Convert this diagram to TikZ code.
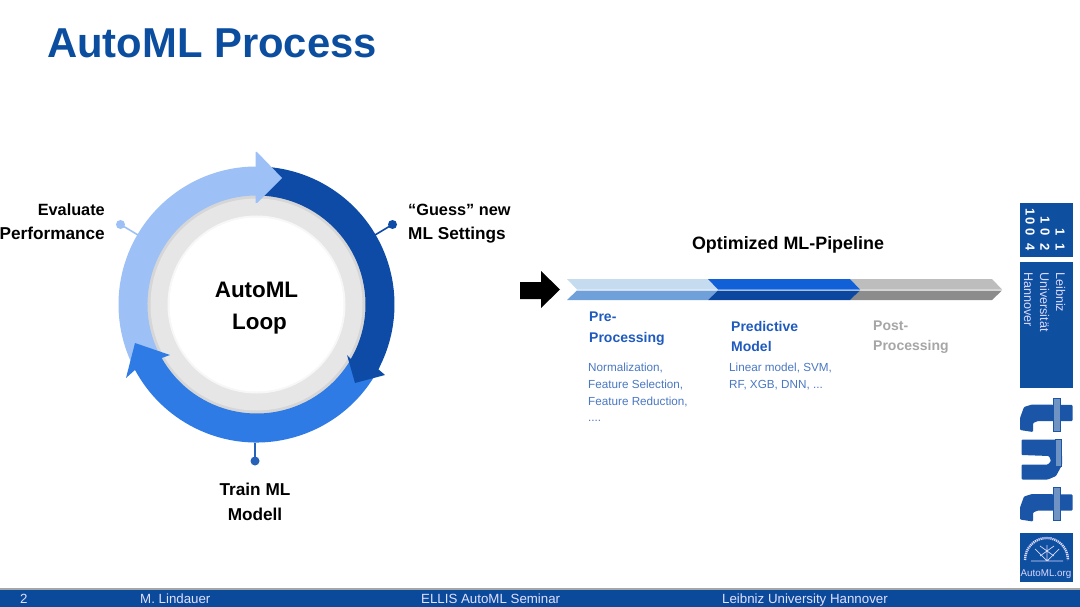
\documentclass[tikz,border=0pt]{standalone}
\usepackage{fontspec}
\setmainfont{Liberation Sans}
\newcommand{\fsz}[1]{\fontsize{#1}{#1}\selectfont}
\definecolor{titleblue}{HTML}{0B4D9E}
\definecolor{ringlight}{HTML}{9DC1F6}
\definecolor{ringmid}{HTML}{2F7BE6}
\definecolor{ringdark}{HTML}{0D4BA6}
\definecolor{ringgray}{HTML}{E6E6E6}
\definecolor{barblue}{HTML}{0B4A9A}
\definecolor{headblue}{HTML}{1F5BBE}
\definecolor{smallblue}{HTML}{4A78C2}
\definecolor{postgray}{HTML}{A6A6A6}
\definecolor{logoblue}{HTML}{0F4FA0}
\definecolor{tntbody}{HTML}{1A55A8}
\definecolor{tntlight}{HTML}{6F94C4}
\definecolor{segA}{HTML}{C5DBEF}
\definecolor{segAb}{HTML}{6FA0DA}
\definecolor{segB}{HTML}{1160D8}
\definecolor{segBb}{HTML}{0B479F}
\definecolor{segC}{HTML}{BDBDBD}
\definecolor{segCb}{HTML}{8C8C8C}
\tikzset{
  lbl/.style={font=\fsz{17.2}\bfseries,text=black,inner sep=0pt,anchor=base},
  lblw/.style={lbl,anchor=base west},
  lble/.style={lbl,anchor=base east},
  loop/.style={font=\fsz{22.4}\bfseries,text=black,inner sep=0pt,anchor=base},
  stage/.style={font=\fsz{14}\bfseries,inner sep=0pt,anchor=base west},
  small/.style={font=\fsz{11.7},text=smallblue,inner sep=0pt,anchor=base west},
  foot/.style={font=\fsz{13.3},text=white!88!blue,inner sep=0pt,anchor=base west},
  logotext/.style={font=\fsz{12.6},text=white!85!blue,inner sep=0pt,rotate=-90,anchor=base west},
  digit/.style={font=\fsz{13}\bfseries,text=white,inner sep=0pt,rotate=-90,anchor=center},
  logobox/.style={fill=logoblue,draw=none},
  pindot/.style={circle,inner sep=0pt,minimum size=9pt},
  tnt/.style={fill=tntbody,draw=none,rounded corners=1pt},
  tntstem/.style={fill=tntlight,draw=tntbody,line width=.6pt},
}
\begin{document}
\begin{tikzpicture}[x=1pt,y=-1pt]
\useasboundingbox (0,0) rectangle (1080,607);
\fill[white] (0,0) rectangle (1080,607);

% title
\node[font=\fsz{41.8}\bfseries,text=titleblue,inner sep=0pt,anchor=base west] (title) at (47,58) {AutoML Process};

% ring
\begin{scope}[y=1pt,shift={(256.5,-304.5)}]
  \fill[ringgray!93!black] (0,0) circle[radius=111];
  \fill[ringgray] (0,0) circle[radius=106];
  \fill[white!97!black] (0,0) circle[radius=89];
  \fill[white] (0,0) circle[radius=87];
  % light band
  \fill[ringlight] (88:138) arc[start angle=88,end angle=205,radius=138]
     -- (205:109) arc[start angle=205,end angle=88,radius=109] -- cycle;
  % medium band + head
  \fill[ringmid] (-27:138) arc[start angle=-27,end angle=-151.7,radius=138]
     -- (-130.5,-73.5) -- (-121.5,-38.5) -- (-86.5,-50.5) -- (-94.8,-53.5)
     arc[start angle=-150.6,end angle=-27,radius=109] -- cycle;
  % dark band + head
  \fill[ringdark] (87:138) arc[start angle=87,end angle=-28,radius=138]
     -- (128.5,-70.5) -- (98.5,-78.5) -- (90.5,-50.5) -- (94.4,-54.5)
     arc[start angle=-30,end angle=87,radius=109] -- cycle;
  % light head on top
  \fill[ringlight] (-1,152.5) -- (0.5,152.5) -- (25.5,126.5) -- (0.5,101.5) -- (-1,101.5) -- cycle;
  \coordinate (pinL) at (-118.5,69.5);
  \coordinate (pinR) at (118.5,69.5);
  \coordinate (pinB) at (-1.5,-138);
\end{scope}
\node[loop] (loopA) at (256.5,297) {AutoML};
\node[loop] (loopB) at (259.5,329.5) {Loop};

% pins
\node[pindot,fill=ringlight] (dotL) at (120.5,224.5) {};
\node[pindot,fill=ringdark] (dotR) at (392.5,224.5) {};
\node[pindot,fill=ringmid!80!black] (dotB) at (255,461) {};
\draw[ringlight,line width=1.6pt] (dotL.center) -- (pinL);
\draw[ringdark,line width=1.6pt] (dotR.center) -- (pinR);
\draw[ringmid!80!black,line width=1.6pt] (dotB.center) -- (pinB);

% ring labels
\node[lble,font=\fsz{16.3}\bfseries] (ev1) at (105,215) {Evaluate};
\node[lble] (ev2) at (105,240) {Performance};
\node[lblw,font=\fsz{16.3}\bfseries] (gu1) at (408,215) {“Guess” new};
\node[lblw] (gu2) at (408,240) {ML Settings};
\node[lbl] (tr1) at (255,495) {Train ML};
\node[lbl] (tr2) at (255,520) {Modell};

% black arrow
\fill[black] (520,282) -- (541,282) -- (541,271) -- (560,289.5) -- (541,308) -- (541,299) -- (520,299) -- cycle;

% pipeline
\node[font=\fsz{17.9}\bfseries,inner sep=0pt,anchor=base] (pipe) at (788,250) {Optimized ML-Pipeline};
\fill[segA]  (567,279) -- (708,279) -- (718,289.5) -- (577,289.5) -- cycle;
\fill[segAb] (577,290.5) -- (718,290.5) -- (708,300) -- (567,300) -- cycle;
\fill[segC]  (850,279) -- (992,279) -- (1002,289.5) -- (860,289.5) -- cycle;
\fill[segCb] (860,290.5) -- (1002,290.5) -- (992,300) -- (850,300) -- cycle;
\fill[segB]  (708,279) -- (850,279) -- (860,289.5) -- (718,289.5) -- cycle;
\fill[segBb] (718,290.5) -- (860,290.5) -- (850,300) -- (708,300) -- cycle;

% stages
\node[stage,text=headblue] (p1) at (589,321.5) {Pre-};
\node[stage,text=headblue] (p2) at (589,342) {Processing};
\node[stage,text=headblue] (m1) at (731,331) {Predictive};
\node[stage,text=headblue] (m2) at (731,351) {Model};
\node[stage,text=postgray] (q1) at (873,330) {Post-};
\node[stage,text=postgray] (q2) at (873,350.5) {Processing};
\node[small] (s1) at (588,371) {Normalization,};
\node[small] (s2) at (588,388) {Feature Selection,};
\node[small] (s3) at (588,405) {Feature Reduction,};
\node[small] (s4) at (588,421) {....};
\node[small] (t1) at (729,371) {Linear model, SVM,};
\node[small] (t2) at (729,388) {RF, XGB, DNN, ...};

% logos
\fill[logobox] (1019.5,203.5) rectangle (1073,257);
\node[digit] (d1) at (1030,212) {1};
\node[digit] (d2) at (1030,221) {0};
\node[digit] (d3) at (1030,232) {0};
\node[digit] (d4) at (1030,247) {4};
\node[digit] (d5) at (1045,220) {1};
\node[digit] (d6) at (1045,232) {0};
\node[digit] (d7) at (1045,247) {2};
\node[digit] (d8) at (1060,232) {1};
\node[digit] (d9) at (1060,247) {1};
\fill[logobox] (1019.5,262) rectangle (1073,387.5);
\node[logotext] (l1) at (1056,272) {Leibniz};
\node[logotext] (l2) at (1040,272) {Universität};
\node[logotext] (l3) at (1024,272) {Hannover};

% tnt logo
\foreach \dy in {0,89.5}{
  \begin{scope}[yshift=-\dy pt]
  \fill[tnt] (1020,430) -- (1020,418) -- (1024,407) -- (1032,404.5) -- (1072.5,405) -- (1072.5,421) -- (1038,421) -- (1033,423) -- (1033,432) -- cycle;
  \fill[tntstem] (1053.5,398) rectangle (1060,431);
  \end{scope}
}
\fill[tnt] (1021.5,439.5) -- (1060,439.5) -- (1062,455) -- (1062,465) -- (1056,476) -- (1048,479.5) -- (1021.5,479.5) -- (1021.5,464.5) -- (1048,464.5) -- (1051,461) -- (1049,456) -- (1021.5,455) -- cycle;
\fill[tntstem] (1055,439) rectangle (1061,466);

% AutoML.org seal
\fill[logobox] (1019.5,533) rectangle (1073,582);
\draw[white!85!blue,line width=2.4pt,dash pattern=on 1.2pt off .8pt] (1025,560) arc[start angle=180,end angle=360,x radius=21.5,y radius=22];
\draw[white!85!blue,line width=.7pt] (1031,561) -- (1063,561)
   (1047,561) -- (1047,545) (1047,561) -- (1035,549) (1047,561) -- (1059,549) (1040,546) -- (1054,556) (1054,546) -- (1040,556);
\node[font=\fsz{9.8},text=white!85!blue,inner sep=0pt,anchor=base] (org) at (1046,576) {AutoML.org};

% footer
\fill[black!35!white] (0,587.5) rectangle (1080,589.5);
\fill[barblue] (0,589.5) rectangle (1080,607);
\node[foot] (f0) at (20,603) {2};
\node[foot] (f1) at (140,603) {M. Lindauer};
\node[foot] (f2) at (421,603) {ELLIS AutoML Seminar};
\node[foot] (f3) at (722,603) {Leibniz University Hannover};
\end{tikzpicture}
\end{document}
